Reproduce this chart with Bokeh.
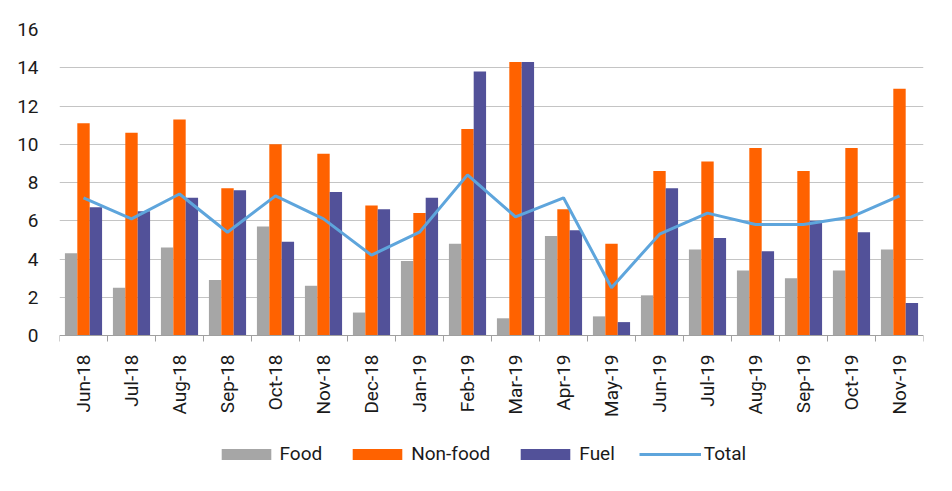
import math
from bokeh.plotting import figure
from bokeh.models import (Range1d, FixedTicker, LinearAxis, Legend, LegendItem,
                          ColumnDataSource, Grid)
from bokeh.transform import dodge
from bokeh.embed import file_html
from bokeh.resources import INLINE

months = ["Jun-18", "Jul-18", "Aug-18", "Sep-18", "Oct-18", "Nov-18", "Dec-18",
          "Jan-19", "Feb-19", "Mar-19", "Apr-19", "May-19", "Jun-19", "Jul-19",
          "Aug-19", "Sep-19", "Oct-19", "Nov-19"]
food = [4.3, 2.5, 4.6, 2.9, 5.7, 2.6, 1.2, 3.9, 4.8, 0.9, 5.2, 1.0, 2.1, 4.5,
        3.4, 3.0, 3.4, 4.5]
nonfood = [11.1, 10.6, 11.3, 7.7, 10.0, 9.5, 6.8, 6.4, 10.8, 14.3, 6.6, 4.8,
           8.6, 9.1, 9.8, 8.6, 9.8, 12.9]
fuel = [6.7, 6.5, 7.2, 7.6, 4.9, 7.5, 6.6, 7.2, 13.8, 14.3, 5.5, 0.7, 7.7,
        5.1, 4.4, 6.0, 5.4, 1.7]
total = [7.2, 6.1, 7.4, 5.4, 7.3, 6.1, 4.2, 5.4, 8.4, 6.2, 7.2, 2.5, 5.3,
         6.4, 5.8, 5.8, 6.2, 7.3]
y_ticks = [0, 2, 4, 6, 8, 10, 12, 14, 16]

idx = list(range(len(months)))
src = ColumnDataSource(dict(x=idx, food=food, nonfood=nonfood, fuel=fuel,
                            total=total))

FONT = "Roboto"
TXT = "#1a1a1a"
BW = 0.258

# layout (pixels)
TOP = 29
PLOT_H = 306            # height of 0..16 band
BELOW = 148             # space under the zero line (labels + legend)
PX_PER_UNIT = PLOT_H / 16.0
y_lo = -BELOW / PX_PER_UNIT

p = figure(frame_width=864, frame_height=PLOT_H + BELOW, min_border_left=59,
           min_border_right=21, min_border_top=TOP, min_border_bottom=0,
           x_range=Range1d(-0.5, len(months) - 0.5), y_range=Range1d(y_lo, 16),
           output_backend="svg", toolbar_location=None, x_axis_type=None,
           y_axis_type=None)
p.outline_line_color = None
p.background_fill_color = "white"
p.border_fill_color = "white"

r_food = p.vbar(x=dodge("x", -BW), top="food", width=BW, source=src,
                fill_color="#a6a6a6", line_color=None)
r_non = p.vbar(x="x", top="nonfood", width=BW, source=src,
               fill_color="#ff6200", line_color=None)
r_fuel = p.vbar(x=dodge("x", BW), top="fuel", width=BW, source=src,
                fill_color="#525199", line_color=None)
r_tot = p.line(x="x", y="total", source=src, line_color="#5ea5dc",
               line_width=3)

# y axis
yax = LinearAxis(ticker=FixedTicker(ticks=y_ticks))
yax.axis_line_color = None
yax.major_tick_out = 0
yax.major_tick_in = 0
yax.minor_tick_out = 0
yax.major_label_standoff = 21
yax.major_label_text_font = FONT
yax.major_label_text_font_size = "19px"
yax.major_label_text_color = TXT
p.add_layout(yax, "left")

# x axis at y=0: labels at centers, ticks at boundaries
xax = LinearAxis(ticker=FixedTicker(ticks=idx,
                                    minor_ticks=[i - 0.5 for i in range(len(months) + 1)]),
                 fixed_location=0)
xax.major_label_overrides = {i: m for i, m in zip(idx, months)}
xax.major_label_orientation = math.pi / 2
xax.major_tick_out = 0
xax.major_tick_in = 0
xax.minor_tick_out = 6
xax.minor_tick_in = 0
xax.minor_tick_line_color = "#a0a0a0"
xax.axis_line_color = "#a0a0a0"
xax.axis_line_width = 1
xax.major_label_standoff = 13
xax.major_label_text_font = FONT
xax.major_label_text_font_size = "19px"
xax.major_label_text_color = TXT
p.add_layout(xax, "below")

g = Grid(dimension=1, ticker=FixedTicker(ticks=y_ticks[1:]),
         grid_line_color="#c4c4c4", grid_line_width=1)
p.add_layout(g, "center")

legend = Legend(items=[LegendItem(label="Food", renderers=[r_food]),
                       LegendItem(label="Non-food", renderers=[r_non]),
                       LegendItem(label="Fuel", renderers=[r_fuel]),
                       LegendItem(label="Total", renderers=[r_tot])],
                orientation="horizontal", location=(155.5, 18),
                glyph_width=62, glyph_height=14, label_standoff=3,
                spacing=24, padding=0, margin=0,
                border_line_color=None, background_fill_alpha=0,
                label_text_font=FONT, label_text_font_size="19px",
                label_text_color=TXT)
p.add_layout(legend, "center")

open("out.html", "w").write(file_html(p, INLINE))
